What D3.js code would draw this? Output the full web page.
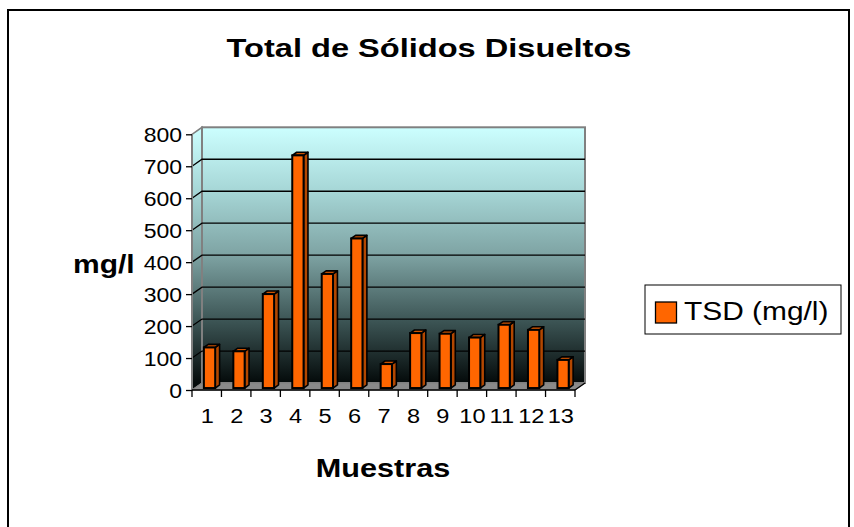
<!DOCTYPE html>
<html>
<head>
<meta charset="utf-8">
<script src="https://cdn.jsdelivr.net/npm/d3@7"></script>
<style>
  html, body { margin: 0; padding: 0; background: #fff; }
  svg { display: block; }
  text { font-family: "Liberation Sans", Arial, sans-serif; fill: #000; }
</style>
</head>
<body>
<svg id="chart" width="854" height="527"></svg>
<script>
// Muestras (sample numbers) and total dissolved solids in mg/l
const categories = ["1", "2", "3", "4", "5", "6", "7", "8", "9", "10", "11", "12", "13"];
const tsd = [127, 115, 294, 728, 357, 468, 75, 172, 170, 158, 198, 182, 88];
const yTicks = [0, 100, 200, 300, 400, 500, 600, 700, 800];
const seriesName = "TSD (mg/l)";

const svg = d3.select("#chart");
const W = 854, H = 527;

svg.append("rect").attr("width", W).attr("height", H).attr("fill", "#fff");

// outer chart frame
svg.append("rect")
  .attr("x", 8).attr("y", 10).attr("width", 841).attr("height", 530)
  .attr("fill", "none").attr("stroke", "#000").attr("stroke-width", 2);

// 3D plot geometry
const x = d3.scaleBand().domain(categories).range([192, 575]).padding(0);
const y = d3.scaleLinear().domain([0, 800]).range([390, 134.3]);
const DX = 10, DY = -7;           // wall depth offset
const f1 = 0.28, f2 = 0.72;        // bar front / back depth fractions
const barW = 11.3;
const X0 = x.range()[0], X1 = x.range()[1];

// wall gradient: light cyan fading to black
const defs = svg.append("defs");
const grad = defs.append("linearGradient")
  .attr("id", "wallGrad")
  .attr("gradientUnits", "userSpaceOnUse")
  .attr("x1", 0).attr("x2", 0)
  .attr("y1", y(800) + DY).attr("y2", y(0) + DY);
[[0, "#ccffff"], [0.25, "#a6d6d6"], [0.5, "#7ea3a3"], [0.75, "#3e5757"], [1, "#040a0a"]]
  .forEach(([o, c]) => grad.append("stop").attr("offset", o).attr("stop-color", c));

// side wall
svg.append("polygon")
  .attr("points", [[X0, y(800)], [X0 + DX, y(800) + DY], [X0 + DX, y(0) + DY], [X0, y(0)]].join(" "))
  .attr("fill", "url(#wallGrad)").attr("stroke", "#808080").attr("stroke-width", 1.5);

// back wall
svg.append("rect")
  .attr("x", X0 + DX).attr("y", y(800) + DY)
  .attr("width", X1 - X0).attr("height", y(0) - y(800))
  .attr("fill", "url(#wallGrad)").attr("stroke", "#808080").attr("stroke-width", 2);

// floor
svg.append("polygon")
  .attr("points", [[X0, y(0)], [X0 + DX, y(0) + DY], [X1 + DX, y(0) + DY], [X1, y(0)]].join(" "))
  .attr("fill", "#8a8a8a").attr("stroke", "#808080").attr("stroke-width", 1);

// gridlines across side and back walls
svg.append("g").selectAll("path")
  .data(yTicks.filter(v => v > 0 && v < 800))
  .join("path")
  .attr("d", v => `M${X0},${y(v)} L${X0 + DX},${y(v) + DY} L${X1 + DX},${y(v) + DY}`)
  .attr("fill", "none").attr("stroke", "#000").attr("stroke-width", 1.3);

// value axis
svg.append("line")
  .attr("x1", X0).attr("x2", X0).attr("y1", y(800)).attr("y2", y(0))
  .attr("stroke", "#808080").attr("stroke-width", 2);
const yAxis = d3.axisLeft(y).tickValues(yTicks).tickSize(6).tickFormat(d3.format("d"));
const gy = svg.append("g").attr("transform", `translate(${X0},0)`).call(yAxis);
gy.select(".domain").remove();
gy.selectAll(".tick line").attr("stroke", "#000").attr("stroke-width", 1.3);
gy.selectAll(".tick text").remove();
gy.selectAll(".tick").append("text")
  .attr("text-anchor", "end")
  .attr("transform", "translate(-10,7) scale(1.18,1)")
  .attr("font-size", 19.5)
  .text(d => d);

// category axis
svg.append("line")
  .attr("x1", X0).attr("x2", X1).attr("y1", y(0)).attr("y2", y(0))
  .attr("stroke", "#000").attr("stroke-width", 1.5);
svg.append("line")
  .attr("x1", X1).attr("y1", y(0)).attr("x2", X1 + DX).attr("y2", y(0) + DY)
  .attr("stroke", "#000").attr("stroke-width", 1.3);
const edges = categories.map(c => x(c)).concat([X1]);
svg.append("g").selectAll("line").data(edges).join("line")
  .attr("x1", d => d).attr("x2", d => d)
  .attr("y1", y(0)).attr("y2", y(0) + 7)
  .attr("stroke", "#000").attr("stroke-width", 1.3);
svg.append("g").selectAll("text").data(categories).join("text")
  .attr("text-anchor", "middle")
  .attr("font-size", 20.5)
  .attr("transform", c => `translate(${x(c) + x.bandwidth() / 2 + 0.5},423) scale(1.15,1)`)
  .text(c => c);

// 3D columns
const ddx = (f2 - f1) * DX, ddy = (f2 - f1) * DY;
const bars = svg.append("g").selectAll("g")
  .data(categories.map((c, i) => ({ c, v: tsd[i] })))
  .join("g");
bars.each(function (d) {
  const g = d3.select(this);
  const xl = x(d.c) + (x.bandwidth() - barW) / 2 + f1 * DX;
  const xr = xl + barW;
  const yb = y(0) + f1 * DY;
  const yt = y(d.v) + f1 * DY;
  g.append("polygon")
    .attr("points", [[xr, yt], [xr + ddx, yt + ddy], [xr + ddx, yb + ddy], [xr, yb]].join(" "))
    .attr("fill", "#b34700").attr("stroke", "#000").attr("stroke-width", 1.6).attr("stroke-linejoin", "round");
  g.append("polygon")
    .attr("points", [[xl, yt], [xl + ddx, yt + ddy], [xr + ddx, yt + ddy], [xr, yt]].join(" "))
    .attr("fill", "#cc5200").attr("stroke", "#000").attr("stroke-width", 1.6).attr("stroke-linejoin", "round");
  g.append("rect")
    .attr("x", xl).attr("y", yt).attr("width", barW).attr("height", yb - yt)
    .attr("fill", "#ff6600").attr("stroke", "#000").attr("stroke-width", 2);
});

// titles
svg.append("text")
  .attr("text-anchor", "middle").attr("font-weight", "bold").attr("font-size", 26.5)
  .attr("transform", "translate(429,56.5) scale(1.23,1)")
  .text("Total de Sólidos Disueltos");
svg.append("text")
  .attr("text-anchor", "start").attr("font-weight", "bold").attr("font-size", 25)
  .attr("transform", "translate(73,273) scale(1.2,1)")
  .text("mg/l");
svg.append("text")
  .attr("text-anchor", "middle").attr("font-weight", "bold").attr("font-size", 25.5)
  .attr("transform", "translate(383,477) scale(1.2,1)")
  .text("Muestras");

// legend
const lg = svg.append("g");
lg.append("rect").attr("x", 645).attr("y", 285).attr("width", 196).attr("height", 49)
  .attr("fill", "#fff").attr("stroke", "#000").attr("stroke-width", 1);
lg.append("rect").attr("x", 655.5).attr("y", 302).attr("width", 21).attr("height", 21)
  .attr("fill", "#ff6600").attr("stroke", "#000").attr("stroke-width", 1.3);
lg.append("text")
  .attr("font-size", 26)
  .attr("transform", "translate(684,320) scale(1.15,1)")
  .text(seriesName);
</script>
</body>
</html>
